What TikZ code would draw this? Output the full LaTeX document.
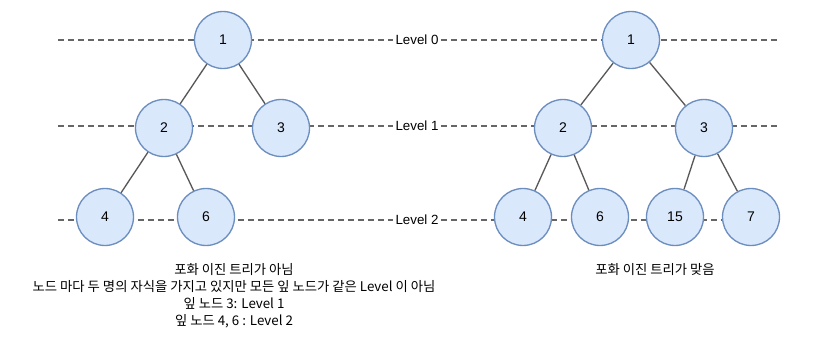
\documentclass[tikz,border=0pt]{standalone}
\usepackage{fontspec}
\setmainfont{Liberation Sans}
\newfontfamily\krfont{Noto Sans CJK KR}
\usepackage{xcolor}
\usetikzlibrary{positioning}
\definecolor{nodefill}{HTML}{DAE8FC}
\definecolor{nodeline}{HTML}{6C8EBF}
\definecolor{edgegray}{HTML}{595959}
\definecolor{levelgray}{HTML}{666666}

\begin{document}
\begin{tikzpicture}[x=0.75pt, y=-0.75pt,
  treenode/.style={circle, draw=nodeline, fill=nodefill, line width=1pt, minimum size=42.75pt, inner sep=0pt, font=\fontsize{10.5}{12}\selectfont},
  edge/.style={draw=edgegray, line width=1pt},
  levelline/.style={draw=levelgray, line width=0.8pt, dash pattern=on 4.5pt off 3pt},
  levellabel/.style={font=\fontsize{10}{12}\selectfont, inner sep=1.5pt},
  caption/.style={font=\krfont\fontsize{10}{12.75}\selectfont, align=center}]

\useasboundingbox (0,0) rectangle (825,356);

% Level labels in the middle
\node[levellabel] (lv0) at (417,40) {Level 0};
\node[levellabel] (lv1) at (417,126) {Level 1};
\node[levellabel] (lv2) at (417,220) {Level 2};

% Dashed level guides (drawn first, nodes cover them)
\coordinate (a0) at (58,40);  \coordinate (b0) at (780,40);
\coordinate (a1) at (58,126); \coordinate (b1) at (780,126);
\coordinate (a2) at (58,220); \coordinate (b2) at (780,220);
\draw[levelline] (a0) -- (lv0.west);
\draw[levelline] (lv0.east) -- (b0);
\draw[levelline] (a1) -- (lv1.west);
\draw[levelline] (lv1.east) -- (b1);
\draw[levelline] (a2) -- (lv2.west);
\draw[levelline] (lv2.east) -- (b2);

% Left tree (not perfect)
\node[treenode] (l1) at (223,40) {1};
\node[treenode] (l2) at (164,128) {2};
\node[treenode] (l3) at (281,128) {3};
\node[treenode] (l4) at (105,217) {4};
\node[treenode] (l6) at (206,217) {6};
\draw[edge] (l1) -- (l2);
\draw[edge] (l1) -- (l3);
\draw[edge] (l2) -- (l4);
\draw[edge] (l2) -- (l6);

% Right tree (perfect)
\node[treenode] (r1) at (631,40) {1};
\node[treenode] (r2) at (563,128) {2};
\node[treenode] (r3) at (704,128) {3};
\node[treenode] (r4) at (523,217) {4};
\node[treenode] (r6) at (600,217) {6};
\node[treenode] (r15) at (675,217) {15};
\node[treenode] (r7) at (751,217) {7};
\draw[edge] (r1) -- (r2);
\draw[edge] (r1) -- (r3);
\draw[edge] (r2) -- (r4);
\draw[edge] (r2) -- (r6);
\draw[edge] (r3) -- (r15);
\draw[edge] (r3) -- (r7);

% Captions
\node[caption] (capl) at (234,296) {포화 이진 트리가 아님\\노드 마다 두 명의 자식을 가지고 있지만 모든 잎 노드가 같은 Level 이 아님\\잎 노드 3: Level 1\\잎 노드 4, 6 : Level 2};
\node[caption] (capr) at (655,270) {포화 이진 트리가 맞음};

\end{tikzpicture}
\end{document}
